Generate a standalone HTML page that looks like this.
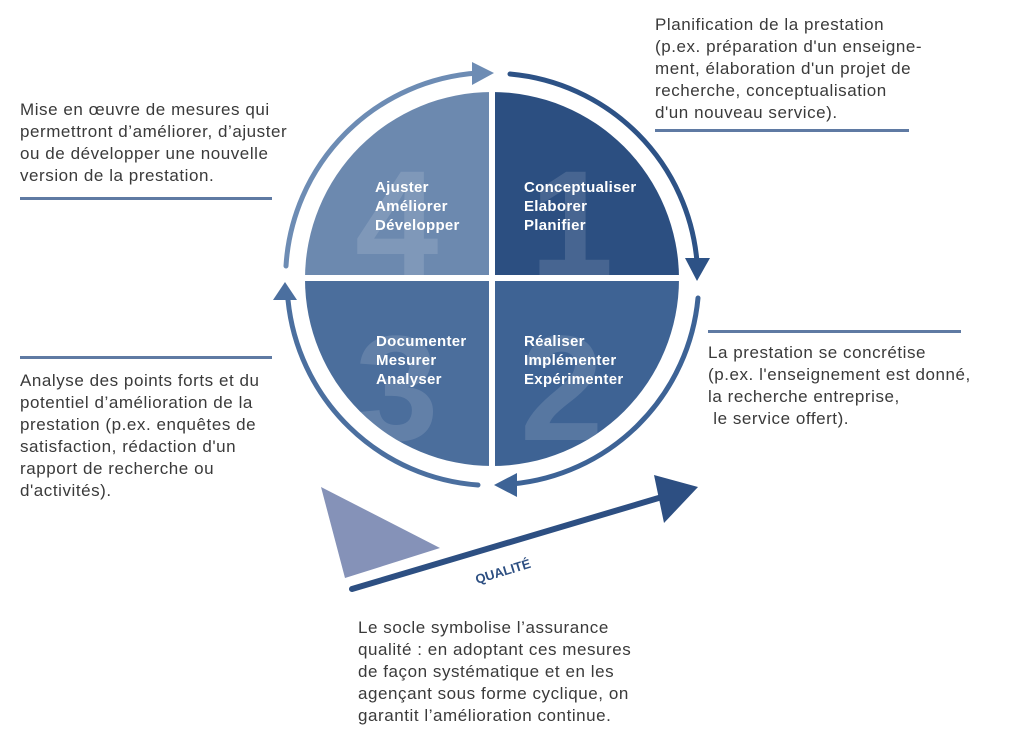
<!DOCTYPE html>
<html><head><meta charset="utf-8"><style>
body{margin:0;width:1024px;height:736px;background:#fff;overflow:hidden;position:relative;font-family:"Liberation Sans",sans-serif}
.t{position:absolute;color:#3a3a3a;font-size:17px;letter-spacing:0.55px;line-height:22px;white-space:nowrap}
.r{position:absolute;height:3px;background:#5f7aa3}
svg{position:absolute;left:0;top:0}
</style></head><body>
<svg width="1024" height="736" viewBox="0 0 1024 736">
<defs><clipPath id="c"><circle cx="492" cy="279" r="187"/></clipPath></defs>
<g clip-path="url(#c)">
<rect x="300" y="90" width="189" height="185" fill="#6c89af"/>
<rect x="495" y="90" width="190" height="185" fill="#2c4f81"/>
<rect x="300" y="281" width="189" height="190" fill="#4b6e9c"/>
<rect x="495" y="281" width="190" height="190" fill="#3e6394"/>
<g font-family="Liberation Sans" font-weight="bold" font-size="150" fill="#fff" fill-opacity="0.13">
<text x="355" y="275">4</text><text x="530" y="275">1</text>
<text x="355" y="440">3</text><text x="520" y="440">2</text></g>
</g>
<g fill="none" stroke-width="5" stroke-linecap="round">
<path d="M286 266 A206 206 0 0 1 478 73" stroke="#6d8cb4"/>
<path d="M510 74 A206 206 0 0 1 697 262" stroke="#2d5286"/>
<path d="M698 298 A206 206 0 0 1 512 484" stroke="#3d6396"/>
<path d="M478 485 A206 206 0 0 1 288 300" stroke="#4b6f9f"/>
<line x1="352" y1="589" x2="662" y2="497" stroke="#2d4f82" stroke-width="6"/>
</g>
<polygon points="472,62 494,73 472,85" fill="#6d8cb4"/>
<polygon points="685,258 697,281 710,258" fill="#2d5286"/>
<polygon points="517,473 494,485 517,497" fill="#3d6396"/>
<polygon points="273,300 285,282 297,300" fill="#4b6f9f"/>
<polygon points="321,487 345,578 440,548" fill="#8592b8"/>
<polygon points="654,475 698,487 664,523" fill="#2d4f82"/>
<g font-family="Liberation Sans" font-weight="bold" font-size="15" letter-spacing="0.3" fill="#fff">
<text x="375" y="192">Ajuster</text><text x="375" y="211">Améliorer</text><text x="375" y="230">Développer</text>
<text x="524" y="192">Conceptualiser</text><text x="524" y="211">Elaborer</text><text x="524" y="230">Planifier</text>
<text x="376" y="346">Documenter</text><text x="376" y="365">Mesurer</text><text x="376" y="384">Analyser</text>
<text x="524" y="346">Réaliser</text><text x="524" y="365">Implémenter</text><text x="524" y="384">Expérimenter</text>
</g>
<text x="477" y="584" font-family="Liberation Sans" font-weight="bold" font-size="13" fill="#2d4f82" transform="rotate(-17 477 584)">QUALITÉ</text>
</svg>
<div class="t" style="left:20px;top:99px">Mise en œuvre de mesures qui<br>permettront d’améliorer, d’ajuster<br>ou de développer une nouvelle<br>version de la prestation.</div>
<div class="r" style="left:20px;top:197px;width:252px"></div>
<div class="r" style="left:20px;top:356px;width:252px"></div>
<div class="t" style="left:20px;top:370px">Analyse des points forts et du<br>potentiel d’amélioration de la<br>prestation (p.ex. enquêtes de<br>satisfaction, rédaction d'un<br>rapport de recherche ou<br>d'activités).</div>
<div class="t" style="left:655px;top:14px">Planification de la prestation<br>(p.ex. préparation d'un enseigne-<br>ment, élaboration d'un projet de<br>recherche, conceptualisation<br>d'un nouveau service).</div>
<div class="r" style="left:655px;top:129px;width:254px"></div>
<div class="r" style="left:708px;top:330px;width:253px"></div>
<div class="t" style="left:708px;top:342px">La prestation se concrétise<br>(p.ex. l'enseignement est donné,<br>la recherche entreprise,<br>&nbsp;le service offert).</div>
<div class="t" style="left:358px;top:617px">Le socle symbolise l’assurance<br>qualité : en adoptant ces mesures<br>de façon systématique et en les<br>agençant sous forme cyclique, on<br>garantit l’amélioration continue.</div>
</body></html>
